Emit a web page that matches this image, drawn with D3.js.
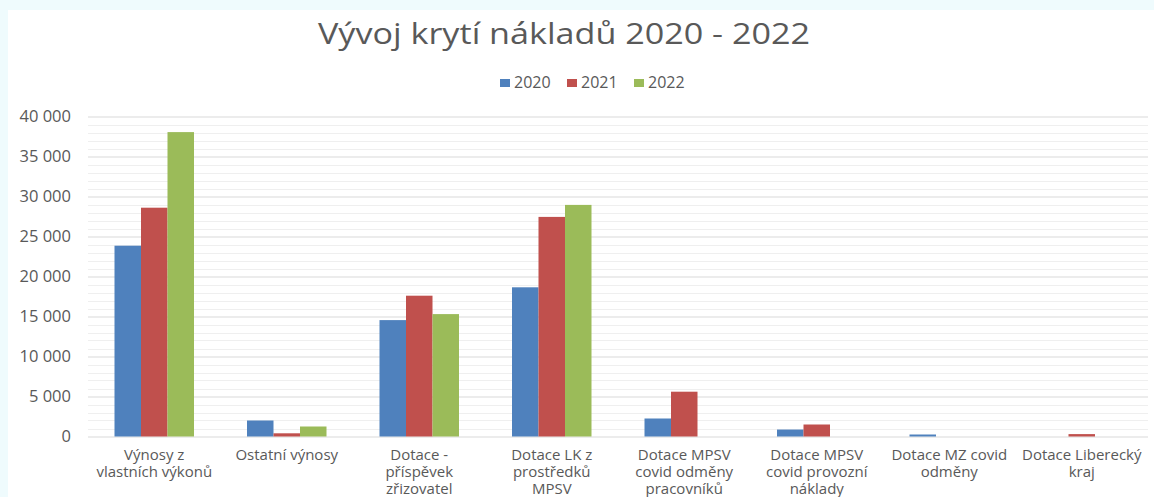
<!DOCTYPE html>
<html>
<head>
<meta charset="utf-8">
<script src="https://cdn.jsdelivr.net/npm/d3@7"></script>
<style>
  html, body { margin: 0; padding: 0; background: #effbfd; }
  svg { display: block; }
</style>
</head>
<body>
<div id="chart"></div>
<script>
// Data
const categories = [
    ["Výnosy z", "vlastních výkonů"],
    ["Ostatní výnosy"],
    ["Dotace -", "příspěvek", "zřizovatel"],
    ["Dotace LK z", "prostředků", "MPSV"],
    ["Dotace MPSV", "covid odměny", "pracovníků"],
    ["Dotace MPSV", "covid provozní", "náklady"],
    ["Dotace MZ covid", "odměny"],
    ["Dotace Liberecký", "kraj"]
];
const years = ["2020", "2021", "2022"];
const values2020 = [23850, 2000, 14550, 18650, 2250, 870, 250, 0];
const values2021 = [28600, 400, 17600, 27450, 5600, 1500, 0, 300];
const values2022 = [38050, 1250, 15300, 28950, 0, 0, 0, 0];
const yTicks = [0, 5000, 10000, 15000, 20000, 25000, 30000, 35000, 40000];
const colors = ["#4f81bd", "#c0504d", "#9bbb59"];

const width = 1154, height = 497;
const font = "'Open Sans', 'DejaVu Sans', sans-serif";
const textColor = "#595959";

const svg = d3.select("#chart").append("svg")
    .attr("width", width)
    .attr("height", height)
    .attr("viewBox", [0, 0, width, height]);

// White chart area on the light tinted background
svg.append("rect")
    .attr("x", 8).attr("y", 10)
    .attr("width", width - 8).attr("height", height - 10)
    .attr("fill", "#fff");

// Scales
const plotLeft = 88, plotRight = 1148;
const x = d3.scaleBand()
    .domain(d3.range(categories.length))
    .range([plotLeft, plotRight])
    .paddingInner(0.4)
    .paddingOuter(0.2);
const xSub = d3.scaleBand()
    .domain(years)
    .range([0, x.bandwidth()]);
const y = d3.scaleLinear()
    .domain([0, 40000])
    .range([436.5, 116.5]);

// Minor gridlines
svg.append("g")
    .selectAll("line")
    .data(d3.range(1000, 40000, 1000).filter(v => v % 5000 !== 0))
    .join("line")
    .attr("x1", plotLeft).attr("x2", plotRight)
    .attr("y1", d => Math.round(y(d)) + 0.5)
    .attr("y2", d => Math.round(y(d)) + 0.5)
    .attr("stroke", "#efefef");

// Y axis with major gridlines
const yAxis = d3.axisLeft(y)
    .tickValues(yTicks)
    .tickSize(-(plotRight - plotLeft))
    .tickPadding(17)
    .tickFormat(d => d3.format(",")(d).replace(/,/g, " "));

svg.append("g")
    .attr("transform", `translate(${plotLeft},0)`)
    .call(yAxis)
    .call(g => g.select(".domain").remove())
    .call(g => g.selectAll(".tick line").attr("stroke", "#d9d9d9"))
    .call(g => g.selectAll(".tick text")
        .style("font-family", font)
        .style("font-size", "16.5px")
        .attr("fill", textColor));

// Bars
const series = [values2020, values2021, values2022];
svg.append("g")
    .selectAll("g")
    .data(categories.map((c, i) => i))
    .join("g")
    .attr("transform", i => `translate(${x(i)},0)`)
    .selectAll("rect")
    .data(i => years.map((yr, k) => ({ yr, k, v: series[k][i] })).filter(d => d.v > 0))
    .join("rect")
    .attr("x", d => xSub(d.yr))
    .attr("width", xSub.bandwidth())
    .attr("y", d => y(d.v))
    .attr("height", d => y(0) - y(d.v))
    .attr("fill", d => colors[d.k]);

// Category labels
svg.append("g")
    .selectAll("text")
    .data(categories)
    .join("text")
    .attr("x", (d, i) => x(i) + x.bandwidth() / 2)
    .attr("y", 460)
    .attr("text-anchor", "middle")
    .style("font-family", font)
    .style("font-size", "15px")
    .attr("fill", textColor)
    .selectAll("tspan")
    .data(d => d)
    .join("tspan")
    .attr("x", function() { return this.parentNode.getAttribute("x"); })
    .attr("dy", (d, i) => i === 0 ? 0 : 17)
    .text(d => d);

// Title
svg.append("text")
    .attr("x", 564)
    .attr("y", 43.5)
    .attr("text-anchor", "middle")
    .attr("textLength", 492)
    .attr("lengthAdjust", "spacingAndGlyphs")
    .style("font-family", font)
    .style("font-size", "29px")
    .attr("fill", textColor)
    .text("Vývoj krytí nákladů 2020 - 2022");

// Legend
const legend = svg.append("g")
    .selectAll("g")
    .data(years)
    .join("g")
    .attr("transform", (d, i) => `translate(${500 + i * 67},79)`);
legend.append("rect")
    .attr("width", 10).attr("height", 8)
    .attr("fill", (d, i) => colors[i]);
legend.append("text")
    .attr("x", 14)
    .attr("y", 9)
    .style("font-family", font)
    .style("font-size", "16px")
    .attr("fill", textColor)
    .text(d => d);
</script>
</body>
</html>
